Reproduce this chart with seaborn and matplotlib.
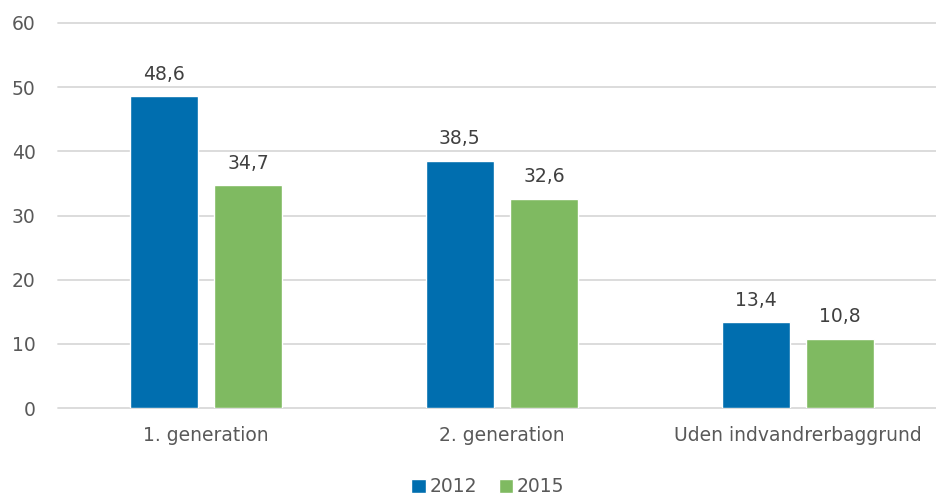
import pandas as pd
import matplotlib
matplotlib.use("Agg")
import matplotlib.pyplot as plt
import seaborn as sns

categories = ["1. generation", "2. generation", "Uden indvandrerbaggrund"]
years = ["2012", "2015"]
values_2012 = [48.6, 38.5, 13.4]
values_2015 = [34.7, 32.6, 10.8]
y_ticks = [0, 10, 20, 30, 40, 50, 60]

df = pd.DataFrame({
    "kategori": categories * 2,
    "aar": [years[0]] * 3 + [years[1]] * 3,
    "andel": values_2012 + values_2015,
})

sns.set_theme(style="white")
plt.rcParams["font.family"] = "sans-serif"
plt.rcParams["font.sans-serif"] = ["DejaVu Sans"]
text_col = "#595959"
fs = 13.5
palette = {"2012": "#006EAF", "2015": "#7FBA61"}

fig = plt.figure(figsize=(9.36, 4.96), dpi=100)
# plot area runs a bit past the right edge, as in the original
ax = fig.add_axes([58 / 936, 88 / 496, 888 / 936, 385 / 496])

sns.barplot(data=df, x="kategori", y="andel", hue="aar", palette=palette,
            width=0.57, gap=0.2, ax=ax, legend=True, saturation=1)

for cont in ax.containers:
    labels = [f"{v:.1f}".replace(".", ",") for v in cont.datavalues]
    ax.bar_label(cont, labels=labels, padding=9, fontsize=fs, color="#404040")

ax.set_ylim(0, 60)
ax.set_xlim(-0.5, 2.5)
ax.set_yticks(y_ticks)
ax.set_yticklabels([str(t) for t in y_ticks], fontsize=fs, color=text_col)
ax.tick_params(axis="x", labelsize=fs, labelcolor=text_col, length=0, pad=13)
ax.tick_params(axis="y", length=0, pad=16)
ax.yaxis.grid(True, color="#D9D9D9", linewidth=1.3)
for gl in ax.get_ygridlines():
    gl.set_clip_on(False)
ax.set_axisbelow(True)
for s in ax.spines.values():
    s.set_visible(False)
ax.set_xlabel("")
ax.set_ylabel("")

ax.legend(loc="center", bbox_to_anchor=((488 - 58) / 888, -0.205),
          ncol=2, frameon=False, fontsize=fs, handlelength=0.75, handleheight=0.75,
          handletextpad=0.2, columnspacing=1.2, labelcolor=text_col)

fig.savefig("out.png", dpi=100)
plt.close(fig)
